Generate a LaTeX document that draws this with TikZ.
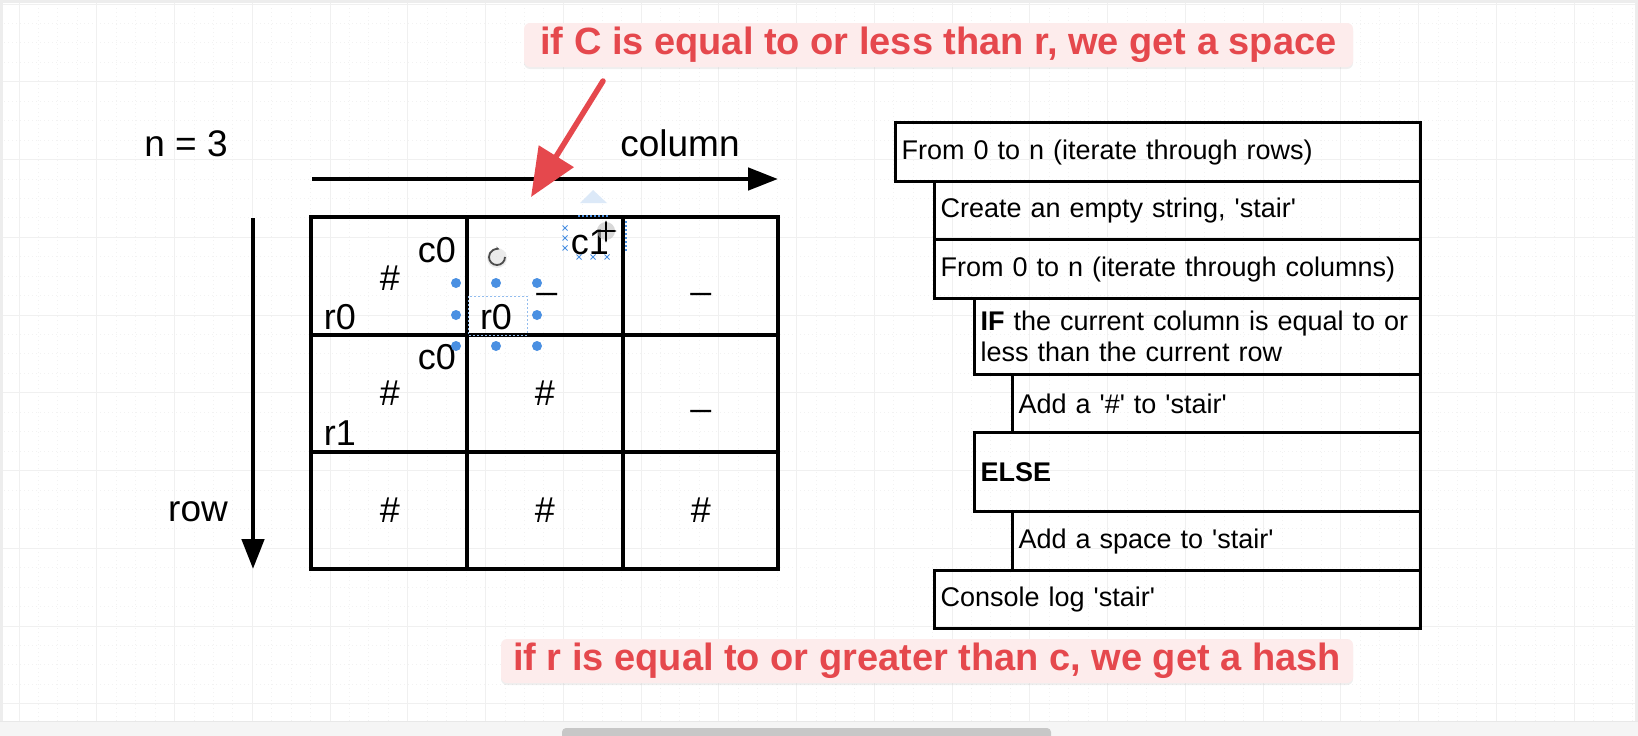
\documentclass[tikz,border=0pt]{standalone}
\usepackage{fontspec}
\setmainfont{Liberation Sans}[Ligatures=TeXOff]
\usetikzlibrary{arrows.meta,shadows}

\definecolor{notered}{HTML}{E5484D}
\definecolor{notebg}{HTML}{FDECEC}
\definecolor{selblue}{HTML}{4A90E2}
\definecolor{sellight}{HTML}{DCE9F8}

\tikzset{
  codebox/.style={draw, line width=3.2pt, anchor=north west, inner xsep=6pt,
    inner ysep=0pt, align=left, font=\fontsize{27}{31}\selectfont},
  notebox/.style={fill=notebg, text=notered, rounded corners=6pt, inner sep=0pt,
    font=\fontsize{38}{44}\selectfont\bfseries,
    drop shadow={shadow xshift=0pt, shadow yshift=-2pt, opacity=.12}},
}

\begin{document}
\begin{tikzpicture}[x=1pt, y=-1pt,
  gridline/.style={black!6, line width=1pt},
  minorline/.style={black!5, line width=.8pt, dash pattern=on 1pt off 3pt},
  tableline/.style={line width=3.3pt},
  axisarrow/.style={line width=4.8pt, -{Triangle[length=30pt,width=22pt]}},
  axislabel/.style={font=\fontsize{37}{40}\selectfont, inner sep=0pt},
  celltext/.style={font=\fontsize{36}{40}\selectfont, inner sep=0pt},
  notearrow/.style={notered, line width=5.5pt, line cap=round,
    -{Triangle[length=48pt,width=40pt]}}]
  \useasboundingbox (0,0) rectangle (1638,736);
  \fill[white] (0,0) rectangle (1638,736);
  % canvas grid
  \foreach \i in {-1,...,84}
    \draw[minorline] (19+19.4375*\i,0) -- (19+19.4375*\i,736);
  \foreach \i in {0,...,38}
    \draw[minorline] (0,4+19.4375*\i) -- (1638,4+19.4375*\i);
  \foreach \i in {0,...,20}
    \draw[gridline] (19+77.75*\i,0) -- (19+77.75*\i,736);
  \foreach \i in {0,...,9}
    \draw[gridline] (0,4+77.75*\i) -- (1638,4+77.75*\i);

  % table
  \draw[tableline] (311,217) rectangle (778,569);
  \foreach \x in {467,623}
    \draw[tableline] (\x,217) -- (\x,569);
  \foreach \y in {335,452}
    \draw[tableline] (311,\y) -- (778,\y);

  \coordinate (colstart) at (312,179);
  \coordinate (colend) at (778,179);
  \coordinate (rowstart) at (253,218);
  \coordinate (rowend) at (253,569);
  \draw[axisarrow] (colstart) -- (colend);
  \draw[axisarrow] (rowstart) -- (rowend);

  \node[axislabel] (nval) at (186,144) {n = 3};
  \node[axislabel] (collabel) at (680,143) {column};
  \node[axislabel] (rowlabel) at (198,512) {row};

  \node[celltext] (cA) at (437,250) {c0};
  \node[celltext] (hashAA) at (390,278) {\#};
  \node[celltext] (rA) at (340,317) {r0};
  \node[celltext] (rB) at (496,317) {r0};
  \node[celltext, anchor=base] (gapAB) at (547,288) {\_};
  \node[celltext] (cB) at (590,242) {c1};
  \node[celltext, anchor=base] (gapAC) at (701,288) {\_};
  \node[celltext] (cC) at (437,357) {c0};
  \node[celltext] (hashBA) at (390,393) {\#};
  \node[celltext] (rC) at (340,433) {r1};
  \node[celltext] (hashBB) at (545,393) {\#};
  \node[celltext, anchor=base] (gapBC) at (701,405) {\_};
  \node[celltext] (hashCA) at (390,510) {\#};
  \node[celltext] (hashCB) at (545,510) {\#};
  \node[celltext] (hashCC) at (701,510) {\#};

  % selection handles
  \draw[selblue!60, line width=.8pt, dash pattern=on 2pt off 2pt] (468,296) rectangle (527,335);
  \foreach \p in {(456,283),(496,283),(537,283),(456,315),(537,315),(456,346),(496,346),(537,346)}
    \fill[selblue] \p circle (5pt);
  \fill[black!15, opacity=.5] (497,258) circle (10pt);
  \draw[black!70, line width=1.8pt, -{Stealth[length=4pt]}] (505,257) arc[start angle=0, end angle=290, radius=8];
  \fill[sellight] (580,203) -- (593,190) -- (607,203) -- cycle;
  \draw[selblue, line width=1.5pt, dash pattern=on 2pt off 2pt] (578,216) -- (608,216);
  \draw[selblue, line width=1.5pt, dash pattern=on 2pt off 2pt] (626,221) -- (626,252);
  \foreach \p in {(565,228),(565,238),(565,248),(579,257),(593,257),(607,257)}
    \draw[selblue, line width=.8pt] \p ++(-2.5,-2.5) -- ++(5,5) \p ++(-2.5,2.5) -- ++(5,-5);
  \fill[black!25, opacity=.6] (606,231) circle (9pt);
  \draw[line width=1.8pt, {Latex[length=3pt]}-{Latex[length=3pt]}] (606,220) -- (606,243);
  \draw[line width=1.8pt, {Latex[length=3pt]}-{Latex[length=3pt]}] (595,231) -- (617,231);

  % steps
  \node[codebox, text width=513pt, minimum height=59pt] (rowsloop) at (894,121)
    {From 0 to n (iterate through rows)};
  \node[codebox, text width=474pt, minimum height=58pt] (makestair) at (933,180)
    {Create an empty string, 'stair'};
  \node[codebox, text width=474pt, minimum height=59pt] (colsloop) at (933,238)
    {From 0 to n (iterate through columns)};
  \node[codebox, text width=434pt, minimum height=76pt] (ifcheck) at (973,297)
    {\textbf{IF} the current column is equal to or\\less than the current row};
  \node[codebox, text width=396pt, minimum height=58pt] (addhash) at (1011,373)
    {Add a '\#' to 'stair'};
  \node[codebox, text width=434pt, minimum height=79pt] (elsebox) at (973,431)
    {\textbf{ELSE}};
  \node[codebox, text width=396pt, minimum height=59pt] (addspace) at (1011,510)
    {Add a space to 'stair'};
  \node[codebox, text width=474pt, minimum height=58pt] (logstair) at (933,569)
    {Console log 'stair'};

  % notes
  \node[notebox, minimum width=829pt, minimum height=44pt] (spacenote) at (938.5,45)
    {if C is equal to or less than r, we get a space};
  \node[notebox, minimum width=852pt, minimum height=44pt] (hashnote) at (927,661)
    {if r is equal to or greater than c, we get a hash};
  \coordinate (arrowtail) at (603,81);
  \coordinate (arrowtip) at (531,197);
  \draw[notearrow] (arrowtail) -- (arrowtip);

  % window edges
  \fill[black!7] (0,0) rectangle (1638,3);
  \fill[black!7] (0,0) rectangle (3,736);
  \fill[black!7] (1635,0) rectangle (1638,736);
  \fill[black!4] (0,721) rectangle (1638,736);
  \draw[black!9, line width=1pt] (0,721) -- (1638,721);
  \fill[black!22, rounded corners=4pt] (562,728) rectangle (1051,740);
\end{tikzpicture}
\end{document}
